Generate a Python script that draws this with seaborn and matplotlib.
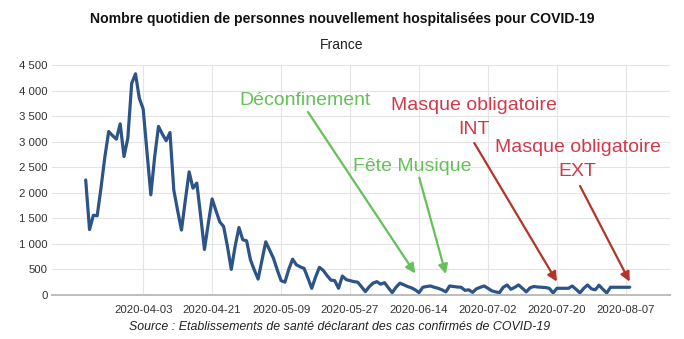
import matplotlib
matplotlib.use("Agg")
import matplotlib.pyplot as plt
import matplotlib.dates as mdates
from matplotlib.ticker import FixedLocator, FuncFormatter
import numpy as np
import pandas as pd
import seaborn as sns

# Daily new COVID-19 hospitalisations in France, from 2020-03-19
start_date = "2020-03-19"
new_hosp = [
    2250, 1280, 1560, 1550, 2100, 2700, 3200, 3120, 3050, 3350,
    2710, 3070, 4140, 4330, 3850, 3640, 2800, 1960, 2700, 3300,
    3150, 3020, 3180, 2050, 1650, 1270, 1850, 2410, 2090, 2190,
    1550, 890, 1400, 1880, 1650, 1430, 1340, 950, 500, 950,
    1320, 1080, 1060, 690, 490, 310, 680, 1040, 880, 720,
    490, 280, 250, 500, 700, 590, 550, 520, 330, 130,
    350, 540, 480, 380, 290, 280, 130, 370, 300, 280,
    260, 250, 160, 65, 160, 230, 260, 210, 240, 140,
    45, 150, 230, 200, 165, 140, 100, 45, 150, 165,
    175, 150, 130, 100, 60, 175, 165, 155, 150, 90,
    100, 50, 120, 150, 175, 130, 80, 60, 45, 150,
    195, 110, 150, 195, 130, 60, 140, 165, 155, 150,
    145, 130, 40, 130, 130, 130, 130, 175, 110, 40,
    130, 195, 120, 100, 190, 110, 40, 150, 150, 150,
    150, 150, 150,
]
date_ticks = ["2020-04-03", "2020-04-21", "2020-05-09", "2020-05-27",
              "2020-06-14", "2020-07-02", "2020-07-20", "2020-08-07"]
y_ticks = [0, 500, 1000, 1500, 2000, 2500, 3000, 3500, 4000, 4500]

title = "Nombre quotidien de personnes nouvellement hospitalisées pour COVID-19"
subtitle = "France"
source = "Source : Etablissements de santé déclarant des cas confirmés de COVID-19"

# Events pointed at on the curve: (label, colour, label centre, arrow tail, arrow tip date, tip value)
events = [
    ("Déconfinement", "#66c05a", (0.409, 0.848), (0.414, 0.796), "2020-06-13", 420),
    ("Fête Musique", "#66c05a", (0.582, 0.560), (0.594, 0.510), "2020-06-21", 410),
    ("Masque obligatoire\nINT", "#d23a4a", (0.683, 0.772), (0.683, 0.661), "2020-07-20", 260),
    ("Masque obligatoire\nEXT", "#d23a4a", (0.850, 0.589), (0.854, 0.474), "2020-08-08", 260),
]
arrow_colors = ["#66c05a", "#66c05a", "#b3352a", "#b3352a"]

df = pd.DataFrame({
    "date": pd.date_range(start_date, periods=len(new_hosp), freq="D"),
    "hosp": new_hosp,
})

sns.set_style("white")
plt.rcParams["font.family"] = ["Liberation Sans", "DejaVu Sans"]

fig = plt.figure(figsize=(6.84, 3.39), dpi=100)
ax = fig.add_axes([0.076, 0.130, 0.904, 0.678])

sns.lineplot(data=df, x="date", y="hosp", ax=ax, color="#2d5487", linewidth=2.3)

t0 = pd.Timestamp(start_date)
ax.set_xlim(t0 - pd.Timedelta(days=8.8), t0 + pd.Timedelta(days=152.6))
ax.set_ylim(0, 4500)

ax.xaxis.set_major_locator(FixedLocator(mdates.date2num(pd.to_datetime(date_ticks))))
ax.xaxis.set_major_formatter(mdates.DateFormatter("%Y-%m-%d"))
ax.yaxis.set_major_locator(FixedLocator(y_ticks))
ax.yaxis.set_major_formatter(FuncFormatter(lambda v, p: f"{int(v):,}".replace(",", " ")))

ax.grid(True, color="#e4e4e4", linewidth=0.8)
ax.set_axisbelow(True)
ax.tick_params(axis="both", length=0, labelsize=8.2, labelcolor="#333333")
ax.tick_params(axis="x", pad=7)
ax.tick_params(axis="y", pad=3)
for s in ["left", "right", "top"]:
    ax.spines[s].set_visible(False)
ax.spines["bottom"].set_color("#bdbdbd")
ax.spines["bottom"].set_linewidth(1.4)
ax.set_xlabel("")
ax.set_ylabel("")

fig.text(0.5, 0.945, title, ha="center", va="center", fontsize=10.1,
         fontweight="bold", color="#111111")
fig.text(0.5, 0.866, subtitle, ha="center", va="center", fontsize=10,
         color="#222222")
fig.text(0.496, 0.034, source, ha="center", va="center", fontsize=8.9,
         style="italic", color="#222222")

for (label, tcol, tpos, tail, tip_date, tip_val), acol in zip(events, arrow_colors):
    ax.text(tpos[0], tpos[1], label, transform=ax.transAxes, ha="center",
            va="center", fontsize=14, color=tcol, linespacing=1.55)
    ax.annotate("", xy=(mdates.date2num(pd.Timestamp(tip_date)), tip_val),
                xycoords="data", xytext=tail, textcoords="axes fraction",
                arrowprops=dict(arrowstyle="-|>", color=acol, lw=1.6,
                                mutation_scale=14, shrinkA=0, shrinkB=0))

fig.savefig("out.png", dpi=100)
